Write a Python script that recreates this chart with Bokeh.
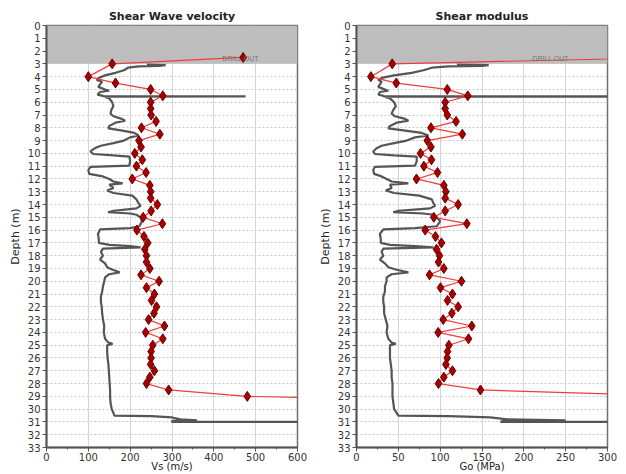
from bokeh.plotting import figure
from bokeh.layouts import row
from bokeh.models import Range1d, SingleIntervalTicker, BoxAnnotation
from bokeh.embed import file_html
from bokeh.resources import INLINE

# ---------------- data ----------------
titles = ["Shear Wave velocity", "Shear modulus"]
x_labels = ["Vs (m/s)", "Go (MPa)"]
y_label = "Depth (m)"
drill_out_depth = 3.0
drill_label = "DRILL OUT"

# measured points (red, with diamonds)
pt_depth = [2.5, 3.0, 4.0, 4.5, 5.0, 5.5, 6.0, 6.5, 7.0, 7.5, 8.0, 8.5, 9.0, 9.5,
            10.0, 10.5, 11.0, 11.5, 12.0, 12.5, 13.0, 13.5, 14.0, 14.5, 15.0, 15.5,
            16.0, 16.5, 17.0, 17.5, 18.0, 18.5, 19.0, 19.5, 20.0, 20.5, 21.0, 21.5,
            22.0, 22.5, 23.0, 23.5, 24.0, 24.5, 25.0, 25.5, 26.0, 26.5, 27.0, 27.5,
            28.0, 28.5, 29.0]
pt_vs = [470, 157, 100, 165, 249, 278, 249, 249, 250, 262, 227, 271, 221, 226,
         211, 229, 215, 238, 205, 247, 249, 249, 265, 250, 231, 277,
         216, 233, 242, 235, 239, 239, 247, 226, 269, 239, 258, 251,
         263, 257, 244, 282, 237, 278, 254, 250, 250, 249, 258, 247,
         239, 292, 480]
pt_go = [382, 42.7, 17.2, 47.5, 108.5, 133, 106, 106, 108.5, 119, 89, 126.5, 84.6, 89,
         76.5, 89.6, 80.5, 96.8, 71.7, 104.4, 106.8, 106, 121.5, 106, 92.4, 131.9,
         82.1, 94.4, 101.6, 95.6, 99.2, 98, 104.4, 87.3, 125.5, 100.4, 114.7, 108.8,
         121.5, 114, 103.6, 137.8, 97.6, 133.9, 110.4, 108.8, 108.4, 106.8, 114.7, 104.4,
         98, 148.2, 398]
# continuation of the red line beyond the last point (off the chart)
tail_depth = [29.5]
tail_vs = [1230]
tail_go = [650]

# continuous profile (grey)
prof_depth = [3.05, 3.1, 3.15, 3.2, 3.3, 3.5, 3.7, 3.9, 4.1, 4.25, 4.4, 4.6, 4.8, 5.0,
              5.1, 5.2, 5.4, 5.5, 5.53, 5.55, 5.58, 5.7, 6.0, 6.3, 6.6, 6.9, 7.1, 7.3,
              7.45, 7.6, 7.85, 8.05, 8.2, 8.4, 8.6, 8.75, 9.0, 9.2, 9.4, 9.6, 9.85, 10.05,
              10.15, 10.25, 10.6, 10.95, 11.05, 11.3, 11.6, 11.8, 12.0, 12.2, 12.35, 12.45,
              12.7, 12.9, 13.1, 13.3, 13.6, 13.9, 14.1, 14.3, 14.5, 14.6, 14.7, 14.8,
              15.0, 15.3, 15.7, 15.85, 15.95, 16.3, 16.7, 17.0, 17.15, 17.25, 17.35, 17.45,
              17.7, 18.0, 18.3, 18.6, 18.9, 19.1, 19.3, 19.45, 19.7, 20.0, 20.4, 20.8,
              21.2, 21.6, 22.0, 22.5, 23.0, 23.5, 24.0, 24.5, 24.8, 24.9, 25.0, 25.5,
              26.0, 26.5, 27.0, 27.5, 28.0, 28.5, 29.0, 29.5, 30.0, 30.3, 30.5, 30.55,
              30.65, 30.8, 30.88, 30.92, 31.0, 31.0]
prof_vs = [240, 285, 270, 220, 195, 185, 165, 140, 125, 120, 133, 128, 124, 140,
           150, 128, 122, 135, 135, 476, 140, 150, 157, 160, 155, 153, 160, 180,
           188, 165, 150, 148, 178, 210, 220, 200, 185, 160, 130, 115, 105, 112,
           160, 198, 200, 198, 105, 100, 102, 135, 150, 160, 182, 150,
           160, 145, 160, 205, 215, 220, 225, 215, 160, 147, 200, 215,
           225, 228, 222, 200, 128, 123, 125, 125, 150, 200, 225, 135,
           130, 135, 128, 140, 145, 158, 175, 150, 140, 138, 135, 133,
           130, 130, 132, 133, 135, 138, 137, 140, 148, 158, 145, 145,
           146, 148, 149, 150, 151, 152, 152, 153, 156, 160, 162, 250,
           300, 320, 360, 300, 300, 700]
prof_go = [120, 158, 150, 110, 90, 80, 66, 45, 30, 26, 30, 28, 26, 34,
           38, 28, 26, 32, 32, 400, 34, 40, 45, 47, 44, 42, 46, 58,
           62, 48, 40, 38, 56, 78, 86, 70, 60, 45, 30, 24, 20, 22,
           45, 72, 72, 70, 22, 20, 21, 30, 36, 42, 62, 40,
           42, 35, 45, 75, 90, 92, 94, 88, 50, 44, 80, 92,
           96, 100, 96, 70, 32, 28, 29, 29, 40, 70, 92, 32,
           30, 32, 28, 34, 38, 48, 62, 42, 36, 36, 34, 34,
           32, 32, 33, 33, 35, 37, 36, 38, 42, 47, 40, 40,
           40, 41, 42, 42, 43, 43, 43, 44, 45, 48, 50, 110,
           160, 180, 250, 175, 172, 400]

x_max = [600, 300]
x_tick_step = [100, 50]
drill_label_x = [464, 232]
drill_label_depth = 2.55
depth_max = 33

FONT = "DejaVu Sans"
GREY = "#555555"
RED = "#f03c3c"


def make_panel(i, pts, tail, prof, width, right_border):
    p = figure(width=width, height=474, output_backend="svg", toolbar_location=None,
               x_range=Range1d(0, x_max[i]), y_range=Range1d(depth_max, 0),
               min_border_left=46, min_border_right=right_border,
               min_border_top=25, min_border_bottom=26)
    p.title.text = titles[i]
    p.title.align = "center"
    p.title.text_font = FONT
    p.title.text_font_size = "11px"
    p.title.text_font_style = "bold"
    p.title.text_color = "#222222"
    p.title.standoff = 5

    p.background_fill_color = "white"
    p.border_fill_color = "white"
    p.outline_line_color = "#707070"
    p.outline_line_width = 1.5

    # shaded drill-out zone
    p.add_layout(BoxAnnotation(top=0, bottom=drill_out_depth, fill_color="#bdbdbd",
                               fill_alpha=1.0, line_alpha=0, level="underlay"))

    # axes
    p.xaxis.ticker = SingleIntervalTicker(interval=x_tick_step[i], num_minor_ticks=2)
    p.yaxis.ticker = SingleIntervalTicker(interval=1, num_minor_ticks=0)
    for ax in (p.xaxis[0], p.yaxis[0]):
        ax.major_label_text_font = FONT
        ax.major_label_text_font_size = "10px"
        ax.major_label_text_color = "#333333"
        ax.axis_label_text_font = FONT
        ax.axis_label_text_font_size = "11px"
        ax.axis_label_text_font_style = "normal"
        ax.axis_label_text_color = "#222222"
        ax.axis_line_color = "#555555"
        ax.axis_line_width = 2
        ax.major_tick_line_color = "#555555"
        ax.minor_tick_line_color = "#555555"
        ax.major_tick_in = 0
        ax.major_tick_out = 4
        ax.minor_tick_in = 0
        ax.minor_tick_out = 2
        ax.major_label_standoff = 2
        ax.axis_label_standoff = 3
    p.xaxis.major_label_standoff = 1
    p.xaxis.axis_label_standoff = -3
    p.xaxis.axis_label_text_font_size = "10px"
    p.xaxis.axis_label = x_labels[i]
    p.yaxis.axis_label = y_label

    # grid
    p.xgrid.grid_line_color = "#d5d5d5"
    p.xgrid.grid_line_width = 1
    p.ygrid.grid_line_color = "#c8c8c8"
    p.ygrid.grid_line_dash = "2 2"
    p.ygrid.grid_line_width = 1

    # profile
    p.line(prof, prof_depth, line_color=GREY, line_width=2.2)

    # measured points
    p.line(pts + tail, pt_depth + tail_depth, line_color=RED, line_width=1.2)
    p.scatter(pts, pt_depth, marker="diamond", size=10, fill_color="#a80000",
              line_color="#6a0000", line_width=1)

    p.text(x=[drill_label_x[i]], y=[drill_label_depth], text=[drill_label],
           text_font_size="7px", text_color="#777777", text_align="center",
           text_baseline="middle")
    return p


p1 = make_panel(0, pt_vs, tail_vs, prof_vs, 310, 13)
p2 = make_panel(1, pt_go, tail_go, prof_go, 310, 13)
layout = row(p1, p2)

open("out.html", "w").write(file_html(layout, INLINE))
